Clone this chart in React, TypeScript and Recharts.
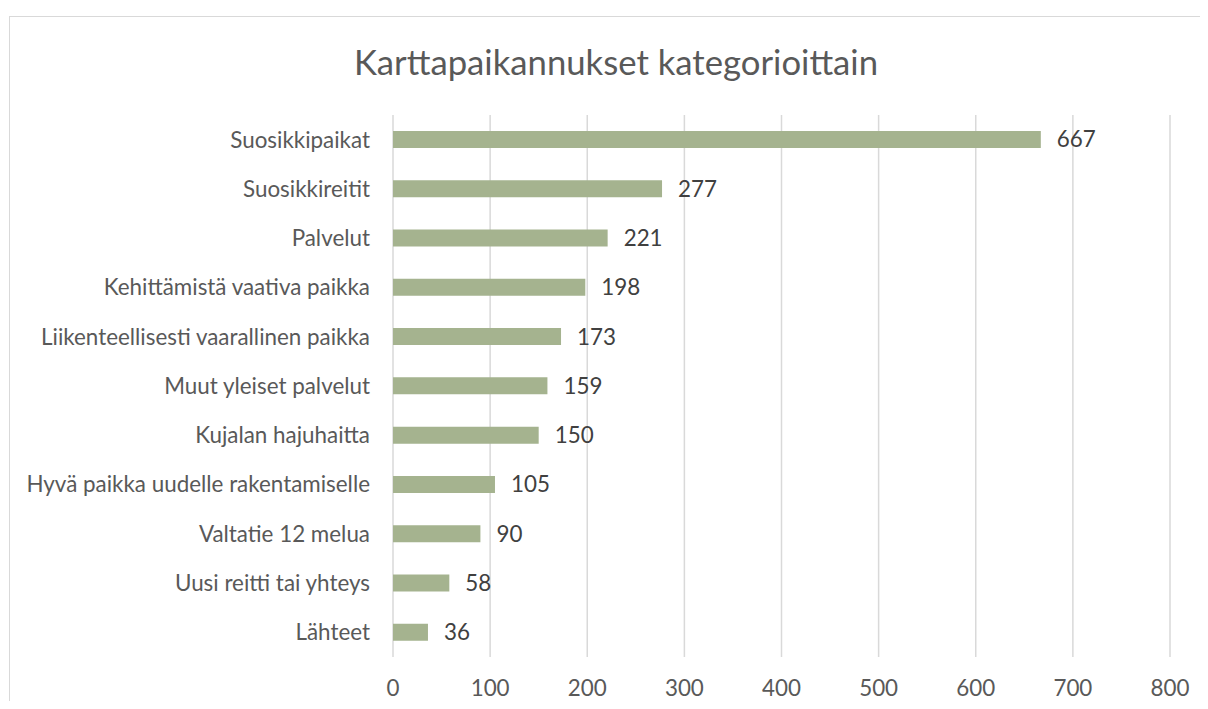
import React from "react";
import { BarChart, Bar, XAxis, YAxis, CartesianGrid, LabelList } from "recharts";

const categories = [
  "Suosikkipaikat",
  "Suosikkireitit",
  "Palvelut",
  "Kehittämistä vaativa paikka",
  "Liikenteellisesti vaarallinen paikka",
  "Muut yleiset palvelut",
  "Kujalan hajuhaitta",
  "Hyvä paikka uudelle rakentamiselle",
  "Valtatie 12 melua",
  "Uusi reitti tai yhteys",
  "Lähteet",
];
const values = [667, 277, 221, 198, 173, 159, 150, 105, 90, 58, 36];
const xTicks = [0, 100, 200, 300, 400, 500, 600, 700, 800];
const title = "Karttapaikannukset kategorioittain";

const data = categories.map((name, i) => ({ name, value: values[i] }));

const FONT = "Lato, 'Noto Sans', sans-serif";
const FS = 22.4;

export default function App() {
  return (
    <div style={{ position: "relative", width: 1200, height: 693, fontFamily: FONT, overflow: "hidden" }}>
      <div style={{ position: "absolute", left: 1, top: 8, width: 1199, height: 1, background: "#d9d9d9" }} />
      <div style={{ position: "absolute", left: 1, top: 8, width: 1, height: 685, background: "#d9d9d9" }} />
      <div
        style={{
          position: "absolute",
          left: 108,
          top: 33,
          width: 1000,
          textAlign: "center",
          fontSize: 34.7,
          lineHeight: "42px",
          color: "#595959",
        }}
      >
        {title}
      </div>
      <div style={{ position: "absolute", left: 0, top: 0 }}>
        <BarChart
          width={1200}
          height={693}
          data={data}
          layout="vertical"
          margin={{ top: 107, right: 38, bottom: 0, left: 0 }}
        >
          <CartesianGrid horizontal={false} vertical={true} stroke="#d9d9d9" strokeWidth={1.5} />
          <XAxis
            type="number"
            domain={[0, 800]}
            ticks={xTicks}
            interval={0}
            axisLine={false}
            tickLine={false}
            tickSize={0}
            tickMargin={23}
            height={44}
            tick={{ fill: "#595959", fontSize: FS, fontFamily: FONT }}
          />
          <YAxis
            type="category"
            dataKey="name"
            width={385}
            interval={0}
            axisLine={false}
            tickLine={false}
            tickSize={0}
            tickMargin={23}
            tick={{ fill: "#595959", fontSize: FS, fontFamily: FONT }}
          />
          <Bar dataKey="value" fill="#A5B38F" barSize={17} isAnimationActive={false}>
            <LabelList
              dataKey="value"
              position="right"
              offset={16}
              fill="#404040"
              fontSize={FS}
              fontFamily={FONT}
            />
          </Bar>
        </BarChart>
      </div>
    </div>
  );
}
